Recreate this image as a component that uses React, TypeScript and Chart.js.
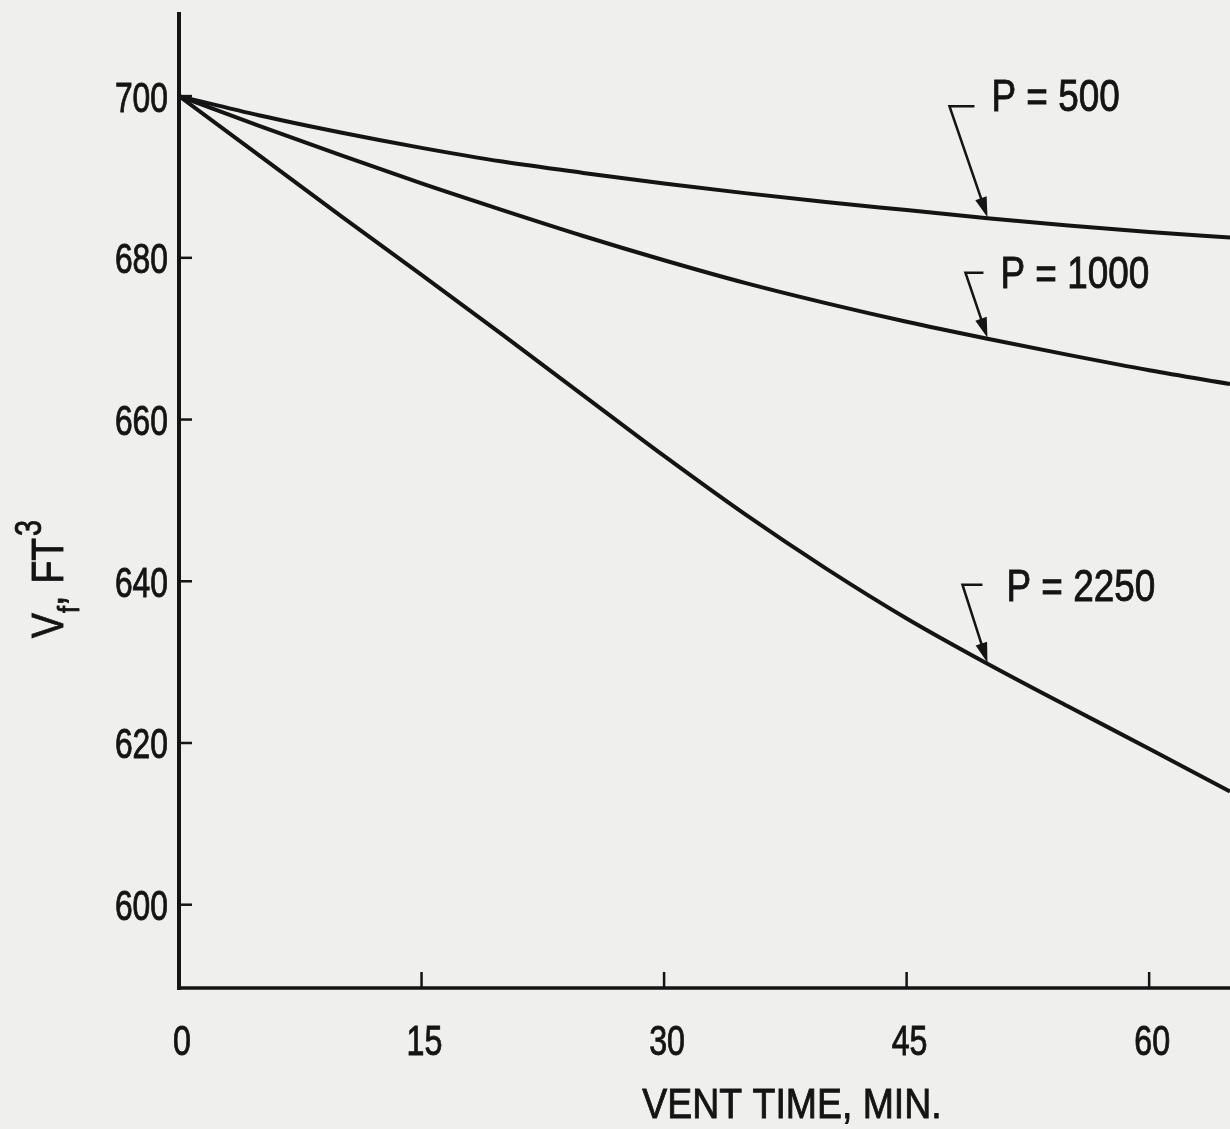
import React, { useEffect, useRef } from "react";
import { Chart, registerables } from "chart.js";

Chart.register(...registerables);

// ---- data ----
const ventTime = [0, 5, 10, 15, 20, 25, 30, 35, 40, 45, 50, 55, 60, 65];
const vfP500 = [700, 697.6, 695.5, 693.6, 691.9, 690.5, 689.2, 688.0, 686.9, 685.9, 684.9, 684.0, 683.2, 682.5];
const vfP1000 = [700, 696.3, 692.7, 689.2, 685.9, 682.7, 679.7, 676.9, 674.4, 672.1, 670.0, 668.0, 666.1, 664.4];
const vfP2250 = [700, 692.6, 685.2, 677.9, 670.5, 663.0, 655.5, 648.3, 641.6, 635.4, 629.8, 624.5, 619.3, 614.0];
const seriesLabels = ["P = 500", "P = 1000", "P = 2250"];
const xTicks = [0, 15, 30, 45, 60];
const yTicks = [600, 620, 640, 660, 680, 700];
const xTitle = "VENT TIME, MIN.";
const annotationX = 50;

// ---- layout / style ----
const BG = "#efefed";
const INK = "#141414";
const FONT = "'Liberation Sans', Arial, sans-serif";
const leaderLayout = [
  { corner: [-38, -111], bar: 25, text: [4, -106] },
  { corner: [-22, -65], bar: 18, text: [13, -50] },
  { corner: [-25, -78], bar: 20, text: [19, -62] },
];

function drawText(
  ctx: CanvasRenderingContext2D,
  text: string,
  x: number,
  y: number,
  size: number,
  sx: number,
  align: CanvasTextAlign
) {
  ctx.save();
  ctx.font = `${size}px ${FONT}`;
  ctx.translate(x, y);
  ctx.scale(sx, 1);
  ctx.textAlign = align;
  ctx.textBaseline = "alphabetic";
  ctx.fillStyle = INK;
  ctx.strokeStyle = INK;
  ctx.lineWidth = 0.9;
  ctx.fillText(text, 0, 0);
  ctx.strokeText(text, 0, 0);
  ctx.restore();
}

const paperPlugin = {
  id: "paper",
  beforeDraw(chart: any) {
    const ctx = chart.ctx;
    ctx.save();
    ctx.fillStyle = BG;
    ctx.fillRect(0, 0, chart.width, chart.height);
    ctx.restore();
  },
  afterDraw(chart: any) {
    const ctx: CanvasRenderingContext2D = chart.ctx;
    const xs = chart.scales.x;
    const ys = chart.scales.y;
    const area = chart.chartArea;
    ctx.save();
    ctx.strokeStyle = INK;
    ctx.lineCap = "butt";
    // axes
    ctx.lineWidth = 4;
    ctx.beginPath();
    ctx.moveTo(area.left, area.top);
    ctx.lineTo(area.left, area.bottom + 2);
    ctx.stroke();
    ctx.lineWidth = 3.5;
    ctx.beginPath();
    ctx.moveTo(area.left - 2, area.bottom);
    ctx.lineTo(area.right, area.bottom);
    ctx.stroke();
    // inward ticks
    ctx.lineWidth = 2.5;
    yTicks.forEach((v) => {
      const py = ys.getPixelForValue(v);
      ctx.beginPath();
      ctx.moveTo(area.left, py);
      ctx.lineTo(area.left + 13, py);
      ctx.stroke();
    });
    xTicks.forEach((v) => {
      if (v === 0) return;
      const px = xs.getPixelForValue(v);
      ctx.beginPath();
      ctx.moveTo(px, area.bottom);
      ctx.lineTo(px, area.bottom - 16);
      ctx.stroke();
    });
    // tick labels
    yTicks.forEach((v) => {
      const py = ys.getPixelForValue(v);
      drawText(ctx, String(v), area.left - 11, py + 15.5, 43, 0.74, "right");
    });
    xTicks.forEach((v) => {
      const px = xs.getPixelForValue(v);
      drawText(ctx, String(v), px + 3, area.bottom + 67, 43, 0.75, "center");
    });
    // x title
    drawText(ctx, xTitle, 792, 1118, 43, 0.87, "center");
    // y title: V_f, FT^3 rotated
    ctx.save();
    ctx.translate(63, 638);
    ctx.rotate(-Math.PI / 2);
    ctx.fillStyle = INK;
    ctx.strokeStyle = INK;
    ctx.lineWidth = 0.9;
    ctx.textBaseline = "alphabetic";
    ctx.textAlign = "left";
    let cx = 0;
    const seg = (t: string, size: number, dy: number, sx: number) => {
      ctx.save();
      ctx.font = `${size}px ${FONT}`;
      ctx.translate(cx, dy);
      ctx.scale(sx, 1);
      ctx.fillText(t, 0, 0);
      ctx.strokeText(t, 0, 0);
      const w = ctx.measureText(t).width * sx;
      ctx.restore();
      cx += w;
    };
    seg("V", 44, 0, 0.85);
    seg("f", 30, 16, 0.85);
    seg(",", 44, 0, 0.85);
    cx += 12;
    seg("FT", 44, 0, 0.85);
    cx += 2;
    seg("3", 36, -22, 0.8);
    ctx.restore();
    // annotations
    const allSeries = [vfP500, vfP1000, vfP2250];
    const idx = ventTime.indexOf(annotationX);
    allSeries.forEach((vals, i) => {
      const tipX = xs.getPixelForValue(annotationX);
      const tipY = ys.getPixelForValue(vals[idx]) - 1;
      const L = leaderLayout[i];
      const cxp = tipX + L.corner[0];
      const cyp = tipY + L.corner[1];
      ctx.lineWidth = 2.5;
      ctx.strokeStyle = INK;
      ctx.beginPath();
      ctx.moveTo(cxp + L.bar, cyp);
      ctx.lineTo(cxp, cyp);
      const dx = tipX - cxp;
      const dy = tipY - cyp;
      const len = Math.hypot(dx, dy);
      const ux = dx / len;
      const uy = dy / len;
      ctx.lineTo(tipX - ux * 14, tipY - uy * 14);
      ctx.stroke();
      // arrow head
      const hl = 20;
      const hw = 6;
      const bx = tipX - ux * hl;
      const by = tipY - uy * hl;
      ctx.fillStyle = INK;
      ctx.beginPath();
      ctx.moveTo(tipX, tipY);
      ctx.lineTo(bx - uy * hw, by + ux * hw);
      ctx.lineTo(bx + uy * hw, by - ux * hw);
      ctx.closePath();
      ctx.fill();
      drawText(ctx, seriesLabels[i], tipX + L.text[0], tipY + L.text[1], 45, 0.82, "left");
    });
    ctx.restore();
  },
};

export default function App() {
  const ref = useRef<HTMLCanvasElement | null>(null);
  useEffect(() => {
    document.body.style.margin = "0";
    document.body.style.background = BG;
    const canvas = ref.current;
    if (!canvas) return;
    const mk = (vals: number[], label: string) => ({
      label,
      data: ventTime.map((t, i) => ({ x: t, y: vals[i] })),
      borderColor: INK,
      borderWidth: 4,
      pointRadius: 0,
      fill: false,
      tension: 0.4,
      cubicInterpolationMode: "monotone" as const,
    });
    const chart = new Chart(canvas, {
      type: "line",
      data: {
        datasets: [
          mk(vfP500, seriesLabels[0]),
          mk(vfP1000, seriesLabels[1]),
          mk(vfP2250, seriesLabels[2]),
        ],
      },
      options: {
        animation: false,
        responsive: false,
        devicePixelRatio: 1,
        layout: { padding: { left: 179, top: 12, right: 0, bottom: 141 } },
        plugins: { legend: { display: false }, tooltip: { enabled: false } },
        scales: {
          x: {
            type: "linear",
            min: 0,
            max: 65,
            grid: { display: false, drawTicks: false },
            border: { display: false },
            ticks: { display: false },
          },
          y: {
            type: "linear",
            min: 589.7,
            max: 710.4,
            grid: { display: false, drawTicks: false },
            border: { display: false },
            ticks: { display: false },
          },
        },
      },
      plugins: [paperPlugin],
    });
    return () => chart.destroy();
  }, []);
  return (
    <div style={{ position: "absolute", left: 0, top: 0, width: 1230, height: 1129, background: BG }}>
      <canvas ref={ref} width={1230} height={1129} />
    </div>
  );
}
